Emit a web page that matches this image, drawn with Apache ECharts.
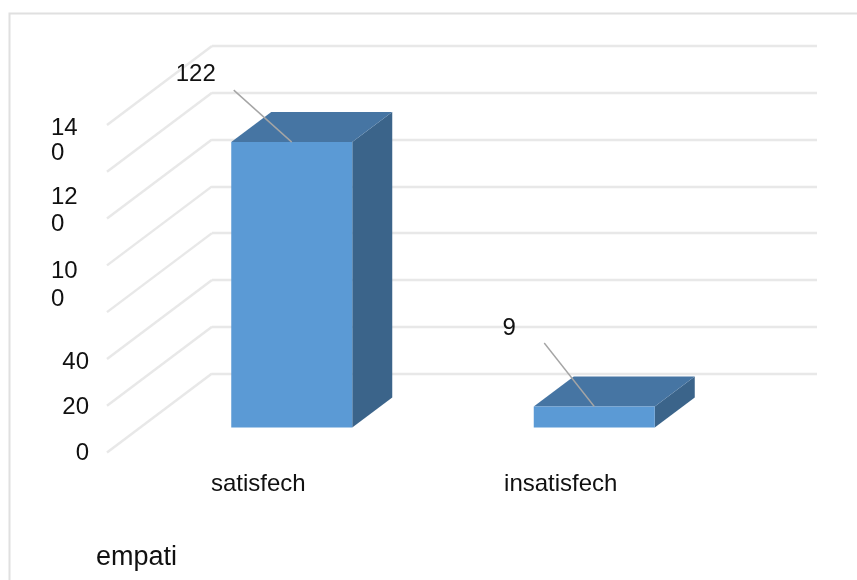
<!DOCTYPE html>
<html>
<head>
<meta charset="utf-8">
<style>html,body{margin:0;padding:0;background:#fff}#chart{width:857px;height:580px}</style>
<script src="https://cdn.jsdelivr.net/npm/echarts@6/dist/echarts.min.js"></script>
</head>
<body>
<div id="chart"></div>
<script>
// Chart content
const categories = ['satisfech', 'insatisfech'];
const values = [122, 9];
const tickValues = [0, 20, 40, 60, 80, 100, 120, 140];
const tickLabels = ['0', '20', '40', '', '', '10\n0', '12\n0', '14\n0'];
const chartTitle = 'empati';

// Oblique projection: the floor runs from the front plane to the back wall
const WALL = { left: 212, top: 46, width: 605, height: 327.5 };
const FLOOR_DX = 105, FLOOR_DY = 79;
// Bar placement relative to the back wall, and the bar's own depth
const BAR_SHIFT_X = 31.5, BAR_SHIFT_Y = 24, BAR_DX = 40, BAR_DY = 30, BAR_RATIO = 0.4;
// Leader line start and label anchor, relative to the front top-centre of each bar
const leaderStart = [[-58, -52], [-50, -63.5]];
const labelAnchor = [[-96, -67.6], [-85, -78]];
// Axis labels are spread unevenly: each one sits at its own distance from its tick
const labelDrop = { 0: -1, 40: 2, 100: 65, 120: 37.5, 140: 14.5 };
const labelLeading = { 100: 28, 120: 26.6, 140: 24.6 };

const FONT_FAMILY = '"Liberation Sans", Arial, sans-serif';
const FONT = '24px ' + FONT_FAMILY;
const INK = '#111111', GRID = '#e8e8e8';
const FRONT = '#5b9ad5', TOP = '#4675a3', SIDE = '#3b648a', LEADER = '#a5a5a5';

function renderDiagonal(params, api) {
  const y = api.coord([0, api.value(1)])[1];
  const x = params.coordSys.x;
  return {
    type: 'line',
    shape: { x1: x - FLOOR_DX, y1: y + FLOOR_DY, x2: x, y2: y },
    style: { stroke: GRID, lineWidth: 2.4 }
  };
}

function renderBar(params, api) {
  const i = api.value(0);
  const top = api.coord([i, api.value(1)]);
  const base = api.coord([i, 0]);
  const w = api.size([1, 0])[0] * BAR_RATIO;
  const dx = BAR_DX + BAR_SHIFT_X, dy = BAR_DY + BAR_SHIFT_Y;
  const cx = top[0] - dx;
  const xl = cx - w / 2, xr = cx + w / 2;
  const yt = top[1] + dy, yb = base[1] + dy;
  const poly = (points, fill) => ({ type: 'polygon', shape: { points }, style: { fill } });
  return {
    type: 'group',
    children: [
      poly([[xr, yt], [xr + BAR_DX, yt - BAR_DY], [xr + BAR_DX, yb - BAR_DY], [xr, yb]], SIDE),
      poly([[xl, yt], [xl + BAR_DX, yt - BAR_DY], [xr + BAR_DX, yt - BAR_DY], [xr, yt]], TOP),
      poly([[xl, yt], [xr, yt], [xr, yb], [xl, yb]], FRONT),
      {
        type: 'line',
        shape: { x1: cx + leaderStart[i][0], y1: yt + leaderStart[i][1], x2: cx, y2: yt },
        style: { stroke: LEADER, lineWidth: 1.4 }
      },
      {
        type: 'text',
        x: cx + labelAnchor[i][0],
        y: yt + labelAnchor[i][1],
        style: { text: String(api.value(1)), font: FONT, fill: INK, align: 'center', verticalAlign: 'middle' }
      }
    ]
  };
}

function renderTickLabel(params, api) {
  const v = api.value(1);
  const text = tickLabels[params.dataIndex];
  if (!text) return null;
  const wrapped = text.indexOf('\n') >= 0;
  const y = api.coord([0, v])[1] + (labelDrop[v] || 0);
  return {
    type: 'text',
    x: wrapped ? 51 : 89,
    y: y + 1.5,
    style: {
      text,
      font: FONT,
      fill: INK,
      lineHeight: labelLeading[v] || 26,
      align: wrapped ? 'left' : 'right',
      verticalAlign: 'middle'
    }
  };
}

const chart = echarts.init(document.getElementById('chart'), null, { renderer: 'canvas' });
chart.setOption({
  animation: false,
  backgroundColor: '#ffffff',
  title: {
    text: chartTitle,
    left: 96,
    top: 544,
    padding: 0,
    textStyle: { fontFamily: FONT_FAMILY, fontSize: 27, fontWeight: 'normal', color: INK }
  },
  graphic: [{
    type: 'rect',
    silent: true,
    shape: { x: 9.5, y: 13.5, width: 920, height: 640 },
    style: { fill: 'none', stroke: '#e0e0e0', lineWidth: 2 }
  }],
  grid: [
    { left: WALL.left, top: WALL.top, width: WALL.width, height: WALL.height },
    { left: WALL.left - FLOOR_DX, top: WALL.top + FLOOR_DY, width: WALL.width, height: WALL.height }
  ],
  xAxis: [
    { gridIndex: 0, type: 'category', data: categories, axisLine: { show: false }, axisTick: { show: false }, axisLabel: { show: false } },
    {
      gridIndex: 1,
      type: 'category',
      data: categories,
      axisLine: { show: false },
      axisTick: { show: false },
      axisLabel: { margin: 20, color: INK, fontFamily: FONT_FAMILY, fontSize: 24 }
    }
  ],
  yAxis: [
    {
      gridIndex: 0, type: 'value', min: 0, max: 140, interval: 20,
      axisLine: { show: false }, axisTick: { show: false }, axisLabel: { show: false },
      splitLine: { show: true, lineStyle: { color: GRID, width: 2.4 } }
    },
    {
      gridIndex: 1, type: 'value', min: 0, max: 140, interval: 20,
      axisLine: { show: false }, axisTick: { show: false }, axisLabel: { show: false },
      splitLine: { show: false }
    }
  ],
  series: [
    {
      type: 'custom', name: 'wall-floor', xAxisIndex: 0, yAxisIndex: 0, silent: true, clip: false, z: 1,
      renderItem: renderDiagonal,
      data: tickValues.map(v => [0, v])
    },
    {
      type: 'custom', name: chartTitle, xAxisIndex: 0, yAxisIndex: 0, silent: true, clip: false, z: 3,
      renderItem: renderBar,
      data: values.map((v, i) => [i, v])
    },
    {
      type: 'custom', name: 'tick-labels', xAxisIndex: 1, yAxisIndex: 1, silent: true, clip: false, z: 3,
      renderItem: renderTickLabel,
      data: tickValues.map(v => [0, v])
    }
  ]
});
</script>
</body>
</html>
